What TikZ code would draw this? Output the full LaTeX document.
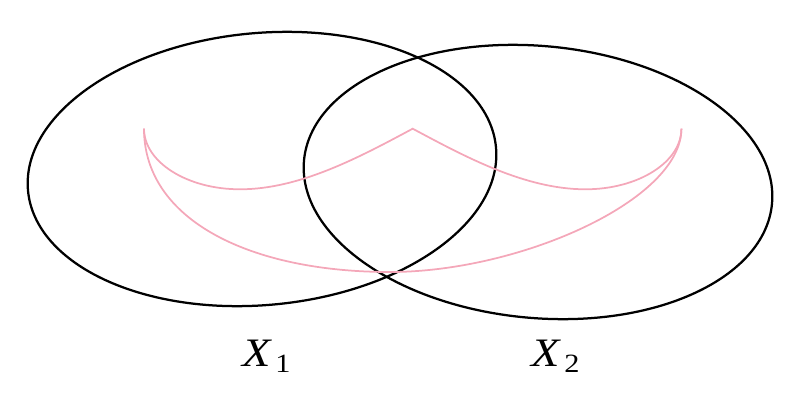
\documentclass[tikz,border=0pt]{standalone}
\usepackage{graphicx}
\usepackage{fontspec}
\setmainfont{Liberation Serif}
\definecolor{curvepink}{RGB}{244,167,185}
\newcommand{\setlabel}[2]{\scalebox{1.15}[1]{\textit{#1}\kern1.5pt\raisebox{-3.8pt}{\fontsize{15}{16}\selectfont #2}}}

\begin{document}
\begin{tikzpicture}[x=0.02cm, y=0.02cm,
		setline/.style={line width=0.45mm, color=black},
		pinkline/.style={line width=0.35mm, color=curvepink},
		setname/.style={font=\fontsize{23}{26}\selectfont, inner sep=0pt, anchor=base west}]
		%%%%% START %%%%%
		\useasboundingbox (0, 0) rectangle (800, 403);
		
		% the two sets
		\draw[setline, rotate around={5.3:(262, 234)}] (262, 234) ellipse [x radius=235, y radius=136];
		\draw[setline, rotate around={-5.3:(538, 221)}] (538, 221) ellipse [x radius=235, y radius=136];
		
		% inner curve
		\coordinate (left) at (144, 274.3);
		\coordinate (peak) at (412.7, 274.3);
		\coordinate (right) at (681.4, 274.3);
		\draw[pinkline] (left) .. controls (144, 241) and (187, 213.7) .. (240, 213.7)
			.. controls (300, 213.7) and (360, 246.1) .. (peak)
			.. controls (465.4, 246.1) and (525.4, 213.7) .. (585.4, 213.7)
			.. controls (638.4, 213.7) and (681.4, 241) .. (right);
		
		% outer curve
		\draw[pinkline] (left) .. controls (144, 183) and (250, 131) .. (390, 131)
			.. controls (520, 131) and (681.4, 203) .. (right);
		
		% names
		\node[setname] (xone) at (242, 37) {\setlabel{X}{1}};
		\node[setname] (xtwo) at (531, 37) {\setlabel{X}{2}};
		%%%%% END %%%%%
\end{tikzpicture}
\end{document}
